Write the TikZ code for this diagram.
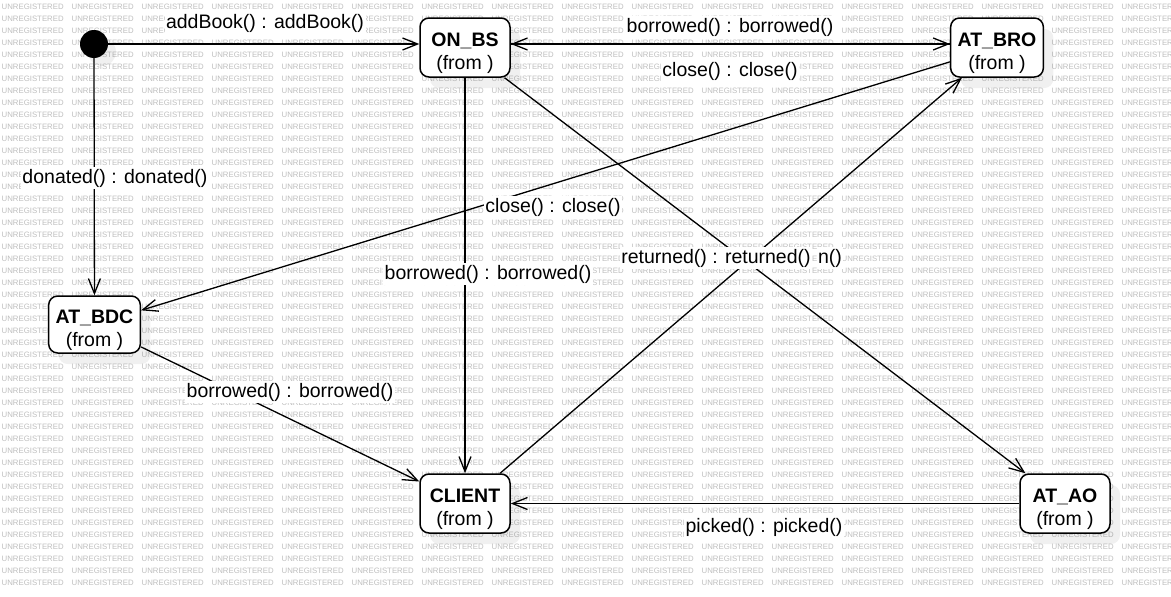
\documentclass[tikz,border=0pt]{standalone}
\usepackage{fontspec}
\setmainfont{Liberation Sans}
\usetikzlibrary{arrows.meta}
\usetikzlibrary{shadows}
\newcommand{\lblfont}{\fontsize{19.5}{23.4}\selectfont}
\newcommand{\wmfont}{\fontsize{7.8}{9}\selectfont}
\newcommand{\st}[1]{\rule{0pt}{25pt}\textbf{#1}\\(from )}
\newcommand{\widthstate}{90pt}
\newcommand{\heightstate}{59pt}
\tikzset{
    common/.style={draw, rounded corners=9pt, line width=1.5pt, fill=white, align=center},
    state/.style={common, minimum width=\widthstate, minimum height=\heightstate, inner xsep=7pt, inner ysep=1pt,
        drop shadow={shadow xshift=10pt, shadow yshift=-11pt, fill=black, opacity=0.06}},
    initial/.style={circle, fill=black, minimum size=28pt, inner sep=0pt,
        drop shadow={shadow xshift=8pt, shadow yshift=-8pt, fill=black, opacity=0.06}},
    trans/.style={-{Straight Barb[length=15pt, width=12pt, line width=1.3pt]}, line width=1.3pt},
    lbl/.style={fill=white, inner sep=1.5pt},
    wmark/.style={anchor=west, inner sep=0pt, text=black!25, font=\wmfont}
}
\begin{document}
\begin{tikzpicture}[x=1pt, y=-1pt, font=\lblfont]
      \useasboundingbox[fill=white] (0,0) rectangle (1171,597);
      % watermark
      \foreach \r in {0,...,48}
          \foreach \c in {0,...,16}
              \node[wmark] (wm-\r-\c) at (1.5+70*\c, 7+12*\r) {UNREGISTERED};

      \node[initial] (start) at (94,44) {};
      \node[state] (ONBS) at (465,47.5) {\st{ON\_BS}};
      \node[state] (ATBRO) at (997,47.5) {\st{AT\_BRO}};
      \node[state, minimum height=57pt] (ATBDC) at (94.5,324.5) {\st{AT\_BDC}};
      \node[state] (CLIENT) at (465,503.5) {\st{CLIENT}};
      \node[state] (ATAO) at (1065,503.5) {\st{AT\_AO}};

      \draw[trans] (start) -- (start -| ONBS.west);
      \draw[trans] (start) -- (ATBDC);
      \draw[trans] ([yshift=3.5pt]ONBS.east) -- ([yshift=3.5pt]ATBRO.west);
      \draw[trans] ([yshift=3.5pt]ATBRO.west) -- ([yshift=3.5pt]ONBS.east);
      \draw[trans] (ATBRO) -- (ATBDC);
      \draw[trans] (ONBS) -- (CLIENT);
      \draw[trans] (ONBS) -- (ATAO);
      \draw[trans] (CLIENT) -- (ATBRO);
      \draw[trans] (ATBDC) -- (CLIENT);
      \draw[trans] (ATAO) -- (CLIENT);

      % transition labels
      \node[lbl] (l-add) at (265,23) {addBook() : addBook()};
      \node[lbl] (l-bor1) at (730,27) {borrowed() : borrowed()};
      \node[lbl] (l-clo1) at (730,71) {close() : close()};
      \node[lbl] (l-don) at (115,178) {donated() : donated()};
      \node[lbl] (l-clo2) at (553,207) {close() : close()};
      \node[lbl] (l-bor2) at (488,274) {borrowed() : borrowed()};
      \node[lbl] (l-n) at (830,258) {n()};
      \node[lbl] (l-ret) at (716,258) {returned() : returned()};
      \node[lbl] (l-bor3) at (290,392) {borrowed() : borrowed()};
      \node[lbl] (l-pic) at (764,527) {picked() : picked()};
\end{tikzpicture}
\end{document}
